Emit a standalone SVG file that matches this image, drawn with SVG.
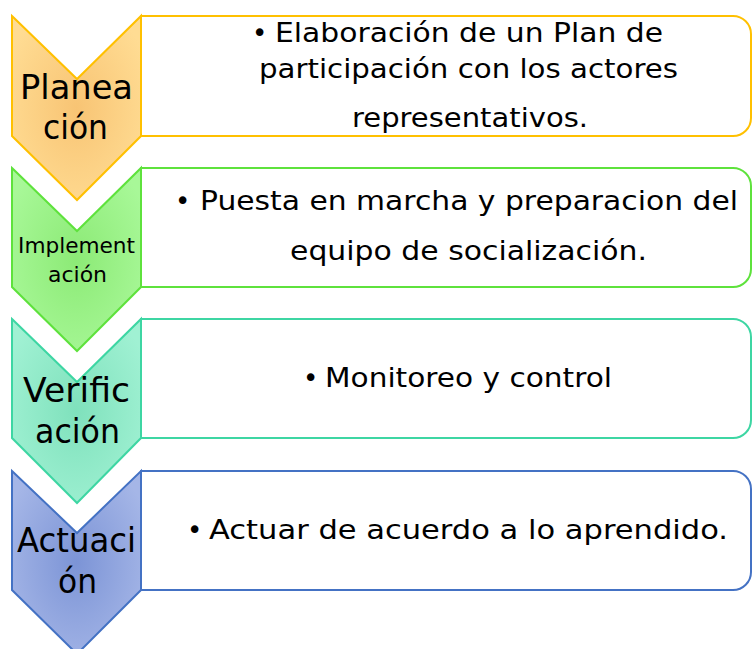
<svg xmlns="http://www.w3.org/2000/svg" width="752" height="649" viewBox="0 0 752 649">
<defs>
<radialGradient id="gO" cx="0.5" cy="0.5" r="0.6"><stop offset="0" stop-color="#F8C474"/><stop offset="1" stop-color="#FFDC93"/></radialGradient>
<radialGradient id="gG" cx="0.5" cy="0.5" r="0.6"><stop offset="0" stop-color="#8CEA76"/><stop offset="1" stop-color="#A8F898"/></radialGradient>
<radialGradient id="gT" cx="0.5" cy="0.5" r="0.6"><stop offset="0" stop-color="#7FE1BC"/><stop offset="1" stop-color="#A0F1D3"/></radialGradient>
<radialGradient id="gB" cx="0.5" cy="0.5" r="0.6"><stop offset="0" stop-color="#7C94D6"/><stop offset="1" stop-color="#A5B6E7"/></radialGradient>
</defs>
<style>
.box{fill:#FFFFFF;stroke-width:2}
.chev{stroke-width:2;stroke-linejoin:miter}
.lbl{font-family:"DejaVu Sans","Liberation Sans",sans-serif;fill:#000000;text-anchor:middle}
.big{font-size:34px}
.sm{font-size:22px}
.txt{font-family:"DejaVu Sans","Liberation Sans",sans-serif;font-size:26px;fill:#000000}
.o{stroke:#FFC000}
.g{stroke:#5EE23C}
.t{stroke:#3DD6A3}
.b{stroke:#4472C4}
</style>
<g id="step-planeacion">
<path class="box o" d="M141,16 H733 A18,18 0 0 1 751,34 V118 A18,18 0 0 1 733,136 H141 Z"/>
<path class="chev o" fill="url(#gO)" d="M12,16 L77,79 L141,16 L141,136 L77,200 L12,136 Z"/>
<text class="lbl big" x="76.5" y="99" textLength="113" lengthAdjust="spacingAndGlyphs">Planea</text>
<text class="lbl big" x="75.5" y="139" textLength="65" lengthAdjust="spacingAndGlyphs">ción</text>
<text class="txt"><tspan x="252" y="42">•</tspan><tspan x="275" y="42" textLength="388" lengthAdjust="spacingAndGlyphs">Elaboración de un Plan de</tspan></text>
<text class="txt" x="259" y="78" textLength="419" lengthAdjust="spacingAndGlyphs">participación con los actores</text>
<text class="txt" x="352" y="127" textLength="236" lengthAdjust="spacingAndGlyphs">representativos.</text>
</g>
<g id="step-implementacion">
<path class="box g" d="M141,168 H733 A18,18 0 0 1 751,186 V269 A18,18 0 0 1 733,287 H141 Z"/>
<path class="chev g" fill="url(#gG)" d="M12,168 L77,231 L141,168 L141,287 L77,351 L12,287 Z"/>
<text class="lbl sm" x="76.5" y="253" textLength="117" lengthAdjust="spacingAndGlyphs">Implement</text>
<text class="lbl sm" x="77.5" y="282" textLength="59" lengthAdjust="spacingAndGlyphs">ación</text>
<text class="txt"><tspan x="175" y="210">•</tspan><tspan x="200" y="210" textLength="538" lengthAdjust="spacingAndGlyphs">Puesta en marcha y preparacion del</tspan></text>
<text class="txt" x="290" y="260" textLength="357" lengthAdjust="spacingAndGlyphs">equipo de socialización.</text>
</g>
<g id="step-verificacion">
<path class="box t" d="M141,319 H733 A18,18 0 0 1 751,337 V420 A18,18 0 0 1 733,438 H141 Z"/>
<path class="chev t" fill="url(#gT)" d="M12,319 L77,382 L141,319 L141,438 L77,503 L12,438 Z"/>
<text class="lbl big" x="76.5" y="402" textLength="107" lengthAdjust="spacingAndGlyphs">Verific</text>
<text class="lbl big" x="77.5" y="443" textLength="85" lengthAdjust="spacingAndGlyphs">ación</text>
<text class="txt"><tspan x="303" y="387">•</tspan><tspan x="325" y="387" textLength="287" lengthAdjust="spacingAndGlyphs">Monitoreo y control</tspan></text>
</g>
<g id="step-actuacion">
<path class="box b" d="M141,471 H733 A18,18 0 0 1 751,489 V572 A18,18 0 0 1 733,590 H141 Z"/>
<path class="chev b" fill="url(#gB)" d="M12,471 L77,533 L141,471 L141,590 L77,654 L12,590 Z"/>
<text class="lbl big" x="76.5" y="552" textLength="119" lengthAdjust="spacingAndGlyphs">Actuaci</text>
<text class="lbl big" x="77.5" y="593" textLength="39" lengthAdjust="spacingAndGlyphs">ón</text>
<text class="txt"><tspan x="187" y="539">•</tspan><tspan x="209" y="539" textLength="519" lengthAdjust="spacingAndGlyphs">Actuar de acuerdo a lo aprendido.</tspan></text>
</g>
</svg>
